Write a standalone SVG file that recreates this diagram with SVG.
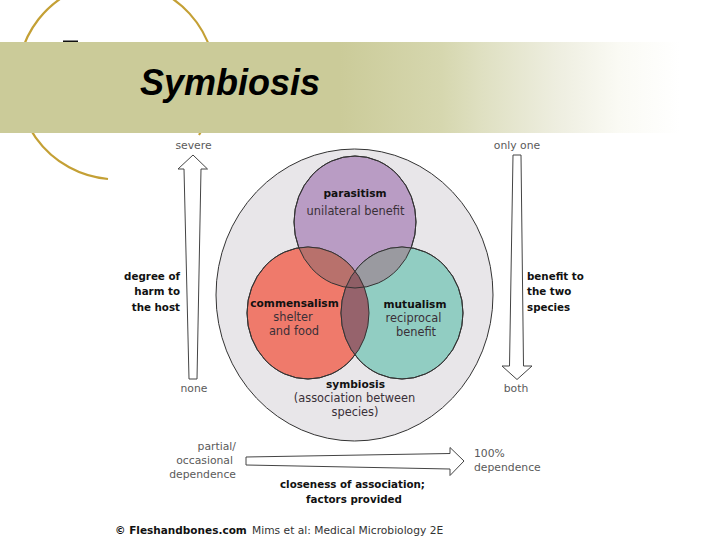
<svg xmlns="http://www.w3.org/2000/svg" width="720" height="540" viewBox="0 0 720 540">
<style>
text{font-family:"DejaVu Sans","Liberation Sans",sans-serif;fill:#3a3038;font-size:11.400px}
.b{font-weight:700;fill:#111;font-size:10.300px}
.i{font-size:10.600px}
.l{fill:#5a5a5a;font-size:10.800px}
.m{text-anchor:middle}
.e{text-anchor:end}
.c{stroke:#333;stroke-width:1}
.a{fill:#fff;stroke:#444;stroke-width:1}
</style>
<defs>
<linearGradient id="band" gradientUnits="userSpaceOnUse" x1="0" x2="680" y1="0" y2="0">
<stop offset="0" stop-color="#cbcb99"/><stop offset="0.5" stop-color="#cbcb99"/><stop offset="0.65" stop-color="#d6d7af"/><stop offset="0.71" stop-color="#dfe0c2"/><stop offset="0.82" stop-color="#eeeee0"/><stop offset="0.91" stop-color="#fafaf4"/><stop offset="1" stop-color="#fff"/>
</linearGradient>
<clipPath id="cp"><ellipse cx="355" cy="222" rx="61" ry="66"/></clipPath>
<clipPath id="cr"><ellipse cx="308" cy="313" rx="61" ry="66"/></clipPath>
</defs>
<path d="M108 179A99 99 0 1 1 199 135" fill="none" stroke="#c4a035" stroke-width="2.200"/>
<rect x="63" y="40.500" width="15" height="1.500" fill="#111"/>
<rect x="0" y="42" width="680" height="91" fill="url(#band)"/>
<text x="140" y="95" style="font-family:'Liberation Sans',Arial,sans-serif;font-size:36px;font-weight:700;font-style:italic;fill:#000">Symbiosis</text>
<g id="symbiosis"><ellipse cx="354.500" cy="295" rx="138.500" ry="146" fill="#e8e6e9" stroke="#333"/></g>
<g id="parasitism"><ellipse cx="355" cy="222" rx="61" ry="66" fill="#b99cc4" class="c"/></g>
<g id="commensalism"><ellipse cx="308" cy="313" rx="61" ry="66" fill="#ef7a6b" class="c"/></g>
<g id="mutualism"><ellipse cx="402" cy="313" rx="61" ry="66" fill="#91cdc2" class="c"/></g>
<g id="overlaps">
<ellipse cx="308" cy="313" rx="61" ry="66" clip-path="url(#cp)" fill="#b8716c"/>
<ellipse cx="402" cy="313" rx="61" ry="66" clip-path="url(#cp)" fill="#9a9aa0"/>
<ellipse cx="402" cy="313" rx="61" ry="66" clip-path="url(#cr)" fill="#96636c"/>
<g clip-path="url(#cp)"><ellipse cx="402" cy="313" rx="61" ry="66" clip-path="url(#cr)" fill="#8f5f66"/></g>
<ellipse cx="355" cy="222" rx="61" ry="66" fill="none" class="c"/>
<ellipse cx="308" cy="313" rx="61" ry="66" fill="none" class="c"/>
<ellipse cx="402" cy="313" rx="61" ry="66" fill="none" class="c"/>
</g>
<g id="connectors">
<path class="a" d="M193 155L207.500 169H201L197 379H189L184 169H178Z"/>
<path class="a" d="M513 155H521L523.500 366H532L517 379.500L502 366H509.500Z"/>
<path class="a" d="M246 457L450 453.500V447.500L464 461L450 475.500V469L246 465Z"/>
</g>
<text class="l m" x="193.500" y="149">severe</text>
<text class="l m" x="517" y="149">only one</text>
<text class="l m" x="194" y="392">none</text>
<text class="l m" x="516" y="392">both</text>
<g class="labels">
<text class="b e" x="180" y="280">degree of</text>
<text class="b e" x="180" y="295">harm to</text>
<text class="b e" x="180" y="311">the host</text>
<text class="b" x="527" y="280">benefit to</text>
<text class="b" x="527" y="295">the two</text>
<text class="b" x="527" y="311">species</text>
<text class="b i m" x="355" y="197">parasitism</text>
<text class="m" x="355.500" y="215">unilateral benefit</text>
<text class="b i m" x="294.500" y="307">commensalism</text>
<text class="m" x="293" y="321">shelter</text>
<text class="m" x="294" y="335">and food</text>
<text class="b i m" x="415" y="308">mutualism</text>
<text class="m" x="413.500" y="322">reciprocal</text>
<text class="m" x="416" y="336">benefit</text>
<text class="b i m" x="355.500" y="388">symbiosis</text>
<text class="m" x="354.500" y="402">(association between</text>
<text class="m" x="355" y="416">species)</text>
<text class="l e" x="236" y="450">partial/</text>
<text class="l e" x="233" y="464">occasional</text>
<text class="l e" x="236" y="478">dependence</text>
<text class="l" x="474" y="457">100%</text>
<text class="l" x="474" y="471">dependence</text>
<text class="b m" x="352.500" y="488">closeness of association;</text>
<text class="b m" x="354" y="503">factors provided</text>
<text x="115" y="534" style="font-weight:700;fill:#111;font-size:10.500px">© Fleshandbones.com</text>
<text x="252" y="534" style="fill:#333;font-size:10.700px">Mims et al: Medical Microbiology 2E</text>
</g>
</svg>
